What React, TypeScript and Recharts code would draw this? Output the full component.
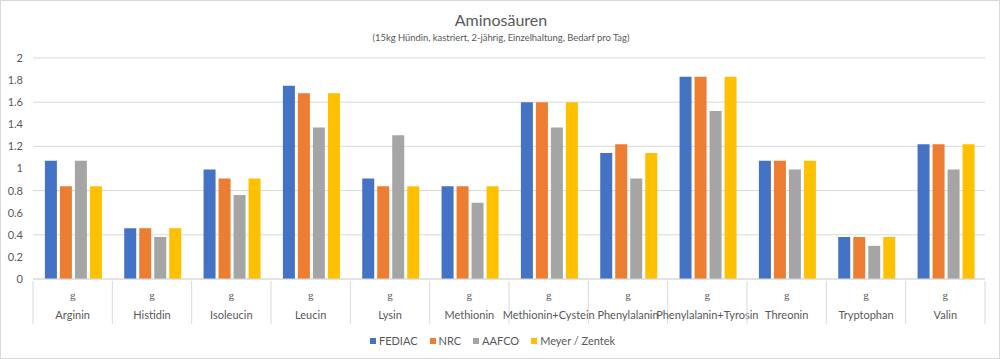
import { BarChart, Bar, XAxis, YAxis, CartesianGrid, Legend } from 'recharts'

document.body.style.margin = '0'

const categories = [
  'Arginin', 'Histidin', 'Isoleucin', 'Leucin', 'Lysin', 'Methionin',
  'Methionin+Cystein', 'Phenylalanin', 'Phenylalanin+Tyrosin', 'Threonin', 'Tryptophan', 'Valin',
]
const fediac = [1.07, 0.46, 0.99, 1.75, 0.91, 0.84, 1.6, 1.14, 1.83, 1.07, 0.38, 1.22]
const nrc = [0.84, 0.46, 0.91, 1.68, 0.84, 0.84, 1.6, 1.22, 1.83, 1.07, 0.38, 1.22]
const aafco = [1.07, 0.38, 0.76, 1.37, 1.3, 0.69, 1.37, 0.91, 1.52, 0.99, 0.3, 0.99]
const meyer = [0.84, 0.46, 0.91, 1.68, 0.84, 0.84, 1.6, 1.14, 1.83, 1.07, 0.38, 1.22]
const yTicks = [0, 0.2, 0.4, 0.6, 0.8, 1, 1.2, 1.4, 1.6, 1.8, 2]

const series = [
  { key: 'FEDIAC', color: '#4472c4' },
  { key: 'NRC', color: '#ed7d31' },
  { key: 'AAFCO', color: '#a5a5a5' },
  { key: 'Meyer / Zentek', color: '#ffc000' },
]

const data = categories.map((name, i) => ({
  name,
  FEDIAC: fediac[i],
  NRC: nrc[i],
  AAFCO: aafco[i],
  'Meyer / Zentek': meyer[i],
}))

const W = 1000
const H = 359
const margin = { top: 58, right: 15, left: 0, bottom: 5 }
const yAxisW = 33
const band = (W - margin.left - margin.right - yAxisW) / categories.length
const font = 'Lato, "Open Sans", sans-serif'
const textColor = '#595959'
const gridColor = '#d9d9d9'

function CatTick(props: any) {
  const { x, y, payload, index } = props
  const left = x - band / 2
  const right = x + band / 2
  return (
    <g>
      <line x1={left} x2={left} y1={y} y2={y + 43} stroke={gridColor} />
      {index === categories.length - 1 && (
        <line x1={right} x2={right} y1={y} y2={y + 43} stroke={gridColor} />
      )}
      <text x={x} y={y + 18} textAnchor="middle" fontSize={11} fill={textColor} fontFamily="'Liberation Serif', serif">
        g
      </text>
      <text x={x} y={y + 38} textAnchor="middle" fontSize={11} fill={textColor} fontFamily={font}>
        {payload.value}
      </text>
    </g>
  )
}

function LegendBox() {
  return (
    <div style={{ display: 'flex', justifyContent: 'center', gap: 12, fontSize: 11, color: textColor, fontFamily: font }}>
      {series.map((s) => (
        <span key={s.key} style={{ display: 'inline-flex', alignItems: 'center', gap: 3 }}>
          <span style={{ width: 6, height: 6, background: s.color, display: 'inline-block' }} />
          {s.key}
        </span>
      ))}
    </div>
  )
}

export default function App() {
  return (
    <div style={{ position: 'relative', width: W, height: H, boxSizing: 'border-box', border: '1px solid #d9d9d9', background: '#fff', fontFamily: font }}>
      <div style={{ position: 'absolute', top: 9, left: 0, width: W, textAlign: 'center', fontSize: 16, color: textColor }}>
        Aminosäuren
      </div>
      <div style={{ position: 'absolute', top: 31, left: 0, width: W, textAlign: 'center', fontSize: 9.4, color: textColor }}>
        (15kg Hündin, kastriert, 2-jährig, Einzelhaltung, Bedarf pro Tag)
      </div>
      <div style={{ position: 'absolute', top: -1, left: -1 }}>
        <BarChart width={W} height={H} data={data} margin={margin} barGap={3} barCategoryGap="15%">
          <CartesianGrid vertical={false} stroke={gridColor} />
          <XAxis
            dataKey="name"
            interval={0}
            height={55}
            tickLine={false}
            tickSize={0}
            stroke={gridColor}
            tick={<CatTick />}
          />
          <YAxis
            width={yAxisW}
            domain={[0, 2]}
            ticks={yTicks}
            axisLine={false}
            tickLine={false}
            tickSize={0}
            tickMargin={10}
            tick={{ fontSize: 11, fill: textColor, fontFamily: font }}
          />
          <Legend verticalAlign="bottom" height={20} content={<LegendBox />} />
          {series.map((s) => (
            <Bar key={s.key} dataKey={s.key} fill={s.color} isAnimationActive={false} />
          ))}
        </BarChart>
      </div>
    </div>
  )
}
